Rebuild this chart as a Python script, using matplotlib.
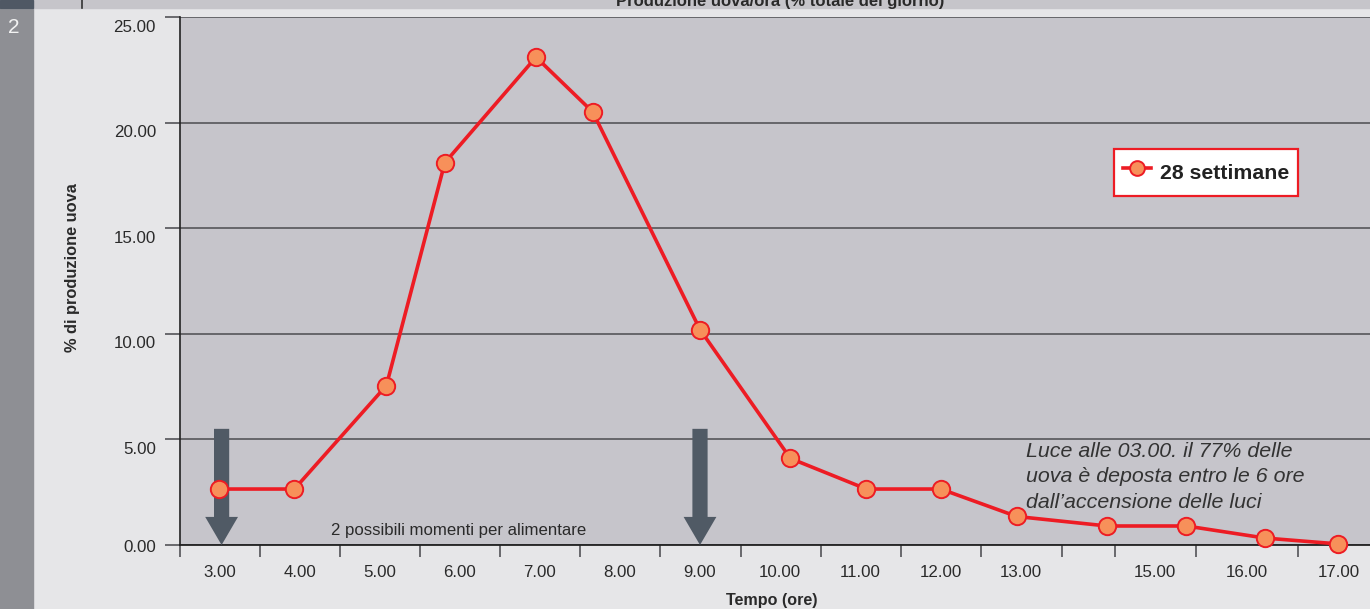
import matplotlib
matplotlib.use("Agg")
import matplotlib.pyplot as plt
from matplotlib.patches import Rectangle
from matplotlib.lines import Line2D
from matplotlib.ticker import FixedLocator, NullFormatter

plt.rcParams['font.family'] = ['Liberation Sans', 'DejaVu Sans']

# ---------------- data ----------------
# horizontal position of each point (hours, as placed on the drawing)
ore_punti = [2.99, 3.93, 5.08, 5.81, 6.95, 7.66, 9.0, 10.13, 11.08, 12.01, 12.96, 14.09, 15.08, 16.06, 16.98]
produzione = [2.65, 2.65, 7.55, 18.1, 23.1, 20.5, 10.2, 4.1, 2.65, 2.65, 1.35, 0.9, 0.9, 0.33, 0.05]

xtick_pos = [3, 4, 5, 6, 7, 8, 9, 10, 11, 12.01, 13.01, 14.69, 15.84, 16.98]
xtick_labels = ['3.00', '4.00', '5.00', '6.00', '7.00', '8.00', '9.00', '10.00', '11.00',
                '12.00', '13.00', '15.00', '16.00', '17.00']
xmark_pos = [2.5, 3.5, 4.5, 5.5, 6.5, 7.5, 8.5, 9.51, 10.51, 11.51, 12.51, 13.52, 14.19, 15.2, 16.47]

ytick_vals = [0, 5, 10, 15, 20, 25]
ytick_labels = ['0.00', '5.00', '10.00', '15.00', '20.00', '25.00']

frecce_x = [3.02, 9.0]
freccia_top = 5.5

serie_label = '28 settimane'
titolo = 'Produzione uova/ora (% totale del giorno)'
ylabel = '% di produzione uova'
xlabel = 'Tempo (ore)'
nota_alimentare = '2 possibili momenti per alimentare'
nota_luce = 'Luce alle 03.00. il 77% delle\nuova è deposta entro le 6 ore\ndall\u2019accensione delle luci'

# ---------------- style ----------------
W, H = 1370, 609
BG = '#e6e6e8'
PLOT_BG = '#c6c5cb'
GRID = '#5e5e62'
RED = '#ed1c24'
ORANGE = '#f7905a'
ARROW = '#505a65'
TXT = '#2a2a2a'

fig = plt.figure(figsize=(W / 100, H / 100), dpi=100, facecolor=BG)

# decorative page strips
fig.patches.append(Rectangle((0, 0), 33 / W, (H - 7.5) / H, transform=fig.transFigure,
                             color='#8e8f94', zorder=0))
fig.patches.append(Rectangle((0, (H - 7.5) / H), 1, 7.5 / H, transform=fig.transFigure,
                             color='#c6c5ca', zorder=0))
fig.patches.append(Rectangle((0, (H - 7.5) / H), 33 / W, 7.5 / H, transform=fig.transFigure,
                             color='#4f5864', zorder=0))
fig.add_artist(Line2D([82 / W, 82 / W], [(H - 7.5) / H, 1], transform=fig.transFigure,
                      color='#333333', lw=1.2))
fig.text(14 / W, (H - 27.5) / H, '2', color='#f2f2f2', fontsize=15, ha='center', va='center')

ax = fig.add_axes([180 / W, 64 / H, 1190 / W, 528 / H])
ax.set_facecolor(PLOT_BG)
ax.set_xlim(2.5, 17.375)
ax.set_ylim(0, 25)

for s in ['top', 'right']:
    ax.spines[s].set_visible(False)
ax.spines['left'].set_color('#222222')
ax.spines['left'].set_linewidth(1.2)
ax.spines['bottom'].set_color('#222222')
ax.spines['bottom'].set_linewidth(1.3)
ax.spines['bottom'].set_zorder(2)

# y axis
ax.yaxis.set_major_locator(FixedLocator(ytick_vals))
ax.yaxis.set_major_formatter(NullFormatter())
ax.tick_params(axis='y', which='major', length=10.8, width=1.3, color=GRID, direction='out')
ax.yaxis.grid(True, color=GRID, lw=1.3, zorder=1)
ax.set_axisbelow(True)
for v, lab in zip(ytick_vals, ytick_labels):
    dy = -2 if v == 0 else -10
    ax.annotate(lab, xy=(0, v), xycoords=('axes fraction', 'data'),
                xytext=(-24, dy), textcoords='offset pixels',
                ha='right', va='center', fontsize=12.2, color=TXT, annotation_clip=False)

# x axis
ax.xaxis.set_major_locator(FixedLocator(xtick_pos))
ax.set_xticklabels(xtick_labels)
ax.xaxis.set_minor_locator(FixedLocator(xmark_pos))
ax.tick_params(axis='x', which='major', length=0, pad=14.5, labelsize=12.2, labelcolor=TXT)
ax.tick_params(axis='x', which='minor', length=8.6, width=1.3, color=GRID, direction='out')

# arrows
for fx in frecce_x:
    ax.arrow(fx, freccia_top, 0, -freccia_top, width=0.19, head_width=0.41, head_length=1.33,
             length_includes_head=True, color=ARROW, zorder=3, lw=0)

# series
ax.plot(ore_punti, produzione, color=RED, lw=2.6, marker='o', markersize=12.5,
        markerfacecolor=ORANGE, markeredgecolor=RED, markeredgewidth=1.4,
        label=serie_label, zorder=5, clip_on=False)

leg = ax.legend(loc='center', bbox_to_anchor=(0.862, 0.7055), frameon=True, fancybox=False,
                prop={'weight': 'bold', 'size': 15.3}, borderpad=0.42, handlelength=1.35,
                handletextpad=0.4, handleheight=1.8, markerscale=0.85)
leg.get_frame().set_edgecolor(RED)
leg.get_frame().set_linewidth(1.6)
leg.get_frame().set_facecolor('white')
leg.get_frame().set_alpha(1)
for t in leg.get_texts():
    t.set_color('#222222')

# annotations
ax.text(4.39, 0.71, nota_alimentare, ha='left', va='center', fontsize=12.1, color=TXT, zorder=4)
ax.text(13.075, 4.9, nota_luce, ha='left', va='top', fontsize=15.4, style='italic',
        color='#333333', linespacing=1.45, zorder=4)

# labels
fig.text(780 / W, (H - 6) / H, titolo, ha='center', va='baseline', fontsize=12,
         fontweight='bold', color=TXT)
fig.text(72 / W, (H - 268) / H, ylabel, rotation=90, ha='center', va='center', fontsize=11.8,
         fontweight='bold', color=TXT)
fig.text(772 / W, (H - 601) / H, xlabel, ha='center', va='center', fontsize=11.6,
         fontweight='bold', color=TXT)

fig.savefig('out.png', dpi=100, facecolor=BG)
